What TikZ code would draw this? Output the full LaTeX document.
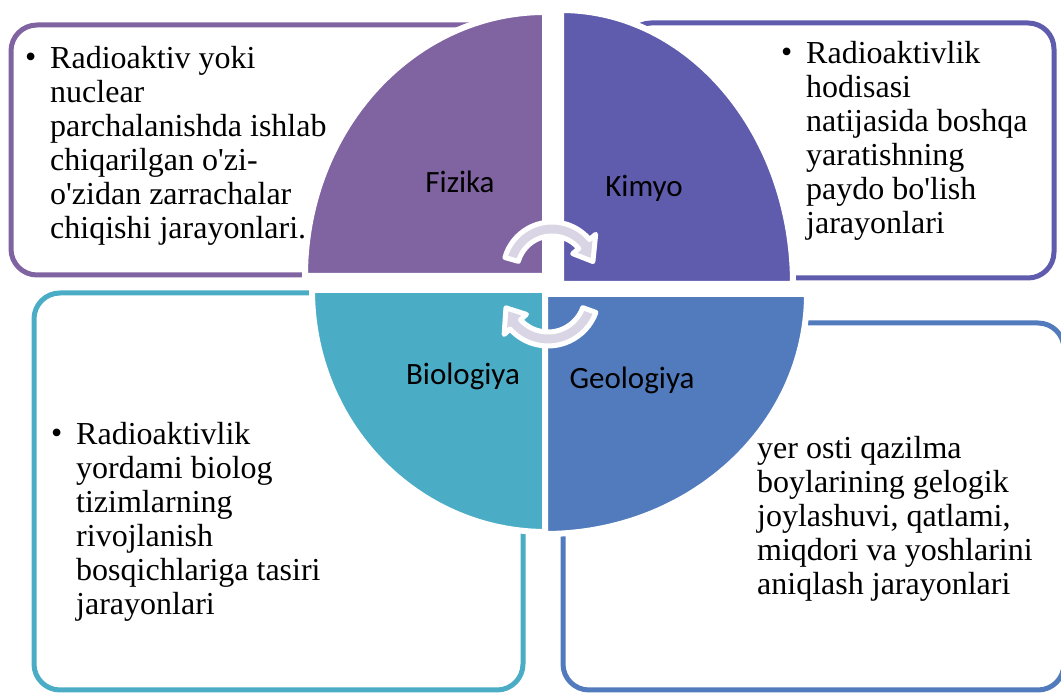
\documentclass[tikz,border=0pt]{standalone}
\usepackage{fontspec}
\setmainfont{Liberation Serif}
\newfontfamily\sectorfont{Carlito}
\usepackage{xcolor}
\usepackage{tikz}
\usetikzlibrary{calc}
\definecolor{fizcol}{HTML}{8064A2}
\definecolor{kimcol}{HTML}{5F5BAD}
\definecolor{biocol}{HTML}{4BACC6}
\definecolor{geocol}{HTML}{527BBD}
\definecolor{arrowgray}{HTML}{D9D5E5}
\tikzstyle{infobox}=[rectangle,rounded corners=26pt,line width=5pt,inner sep=0pt]
\tikzstyle{sector}=[draw=white,line width=6pt]
\tikzstyle{cyclearrow}=[fill=arrowgray,draw=white,line width=5pt,line join=round]
\tikzstyle{sectorlabel}=[font=\sectorfont\fontsize{31}{36}\selectfont,anchor=base,inner sep=0pt]
\tikzstyle{bodytext}=[font=\fontsize{32}{34}\selectfont,align=left,anchor=north west,inner sep=0pt]
\tikzstyle{bulletmark}=[font=\fontsize{32}{34}\selectfont,anchor=base west,inner sep=0pt]

\begin{document}
\begin{tikzpicture}[x=1pt,y=1pt]

 \useasboundingbox (0,0) rectangle (1061,693);

 %boxes
   \foreach \x/\y/\w/\h/\col/\name in {275.5/543/529/250/fizcol/fizbox, 839.5/542.5/429/255/kimcol/kimbox, 278.5/201.5/489/397/biocol/biobox, 813.5/186.5/501/367/geocol/geobox}
          \node[infobox, draw=\col, minimum width=\w pt, minimum height=\h pt] (\name) at (\x,\y) {};

 %sectors
   \foreach \cx/\cy/\rx/\ry/\a/\col in {545/417/240/264/90/fizcol, 561/409/232/274/0/kimcol, 546/403/234/242/180/biocol, 545/399/262/240/270/geocol}
          \path[sector, fill=\col] (\cx,\cy) -- ++(\a:\rx pt and \ry pt) arc[start angle=\a, delta angle=90, x radius=\rx pt, y radius=\ry pt] -- cycle;

 %top arrow
  \def\dx{552};
  \def\dy{422};
   \path[cyclearrow, shift={(\dx,\dy)}] (164:49pt) arc[start angle=164, end angle=40, radius=49pt] -- (40:57pt) -- (13:42pt) -- (40:27pt) -- (40:35pt) arc[start angle=40, end angle=164, radius=35pt] -- cycle;

 %bottom arrow
  \def\dx{548};
  \def\dy{398};
   \path[cyclearrow, shift={(\dx,\dy)}] (340:51pt) arc[start angle=340, end angle=222, radius=51pt] -- (222:59pt) -- (197:44pt) -- (222:29pt) -- (222:37pt) arc[start angle=222, end angle=340, radius=37pt] -- cycle;

 %sector labels
   \foreach \x/\y/\name/\label in {460/500/fizika/Fizika, 644/496/kimyo/Kimyo, 463/308/biologiya/Biologiya, 632/304/geologiya/Geologiya}
          \node[sectorlabel] (\name) at (\x,\y) {\label};

 %texts
   \node[bodytext] (fiztext) at (50,647) {Radioaktiv yoki\\nuclear\\parchalanishda ishlab\\chiqarilgan o\textquotesingle zi-\\o\textquotesingle zidan zarrachalar\\chiqishi jarayonlari.};
   \node[bodytext] (kimtext) at (806,652) {Radioaktivlik\\hodisasi\\natijasida boshqa\\yaratishning\\paydo bo\textquotesingle lish\\jarayonlari};
   \node[bodytext] (biotext) at (76,271) {Radioaktivlik\\yordami biolog\\tizimlarning\\rivojlanish\\bosqichlariga tasiri\\jarayonlari};
   \node[bodytext] (geotext) at (757,257) {yer osti qazilma\\boylarining gelogik\\joylashuvi, qatlami,\\miqdori va yoshlarini\\aniqlash jarayonlari};

 %bullets
   \foreach \x/\y/\name in {25/625/fizdot, 781/630/kimdot, 51/249/biodot}
          \node[bulletmark] (\name) at (\x,\y) {•};

\end{tikzpicture}
\end{document}
